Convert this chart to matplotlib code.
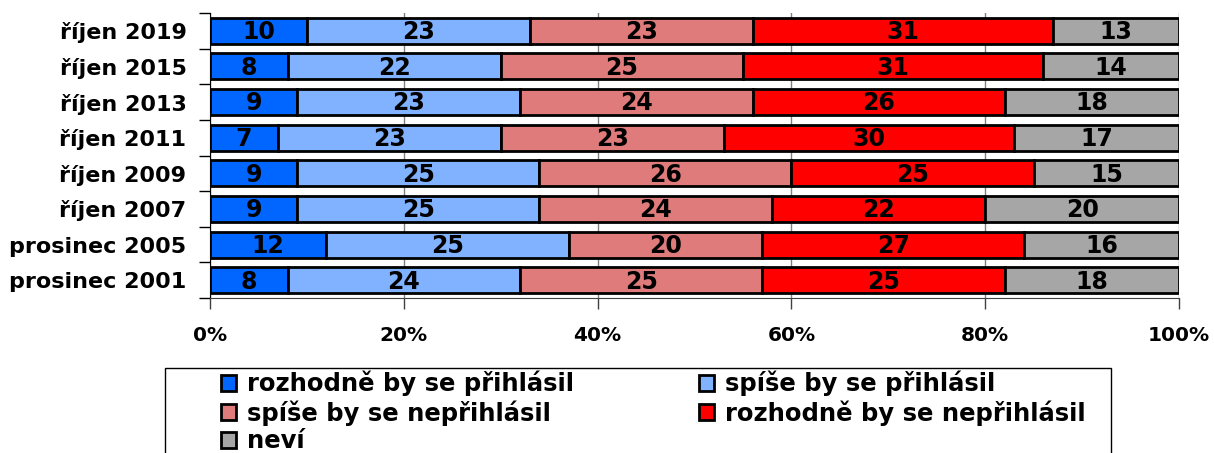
import numpy as np
import matplotlib.pyplot as plt
import matplotlib.patches as patches

plt.rcParams['font.family'] = 'DejaVu Sans'
plt.rcParams['font.weight'] = 'bold'

years = ['říjen 2019', 'říjen 2015', 'říjen 2013', 'říjen 2011',
         'říjen 2009', 'říjen 2007', 'prosinec 2005', 'prosinec 2001']
labels = ['rozhodně by se přihlásil', 'spíše by se přihlásil',
          'spíše by se nepřihlásil', 'rozhodně by se nepřihlásil', 'neví']

rozhodne_ano = [10, 8, 9, 7, 9, 9, 12, 8]
spise_ano = [23, 22, 23, 23, 25, 25, 25, 24]
spise_ne = [23, 25, 24, 23, 26, 24, 20, 25]
rozhodne_ne = [31, 31, 26, 30, 25, 22, 27, 25]
nevi = [13, 14, 18, 17, 15, 20, 16, 18]

colors = ['#0066FF', '#80B2FF', '#E07B7B', '#FF0000', '#A6A6A6']
series = [rozhodne_ano, spise_ano, spise_ne, rozhodne_ne, nevi]

W, H = 1214, 453
fig = plt.figure(figsize=(W / 100, H / 100), dpi=100)
ax = fig.add_axes([210 / W, 1 - 298 / H, (1179 - 210) / W, (298 - 13) / H])

y = np.arange(len(years))
left = np.zeros(len(years))
bars = []
for vals, c, lab in zip(series, colors, labels):
    vals = np.array(vals)
    b = ax.barh(y, vals, left=left, height=0.73, color=c, edgecolor='black',
                linewidth=2, label=lab, zorder=3)
    bars.append(b)
    for yi, v, l in zip(y, vals, left):
        ax.text(l + v / 2, yi + 0.04, str(v), ha='center', va='center',
                fontsize=17, fontweight='bold', zorder=4)
    left = left + vals

ax.set_xlim(0, 100)
ax.set_ylim(len(years) - 0.5, -0.5)
ax.set_xticks(np.arange(0, 101, 20))
ax.set_xticklabels([str(v) + '%' for v in range(0, 101, 20)], fontsize=14.5,
                   fontweight='bold')
ax.tick_params(axis='x', length=8, width=1, color='#404040', pad=12)
ax.set_yticks(y)
ax.set_yticklabels(years, fontsize=16, fontweight='bold')
ax.tick_params(axis='y', length=0, pad=17)
ax.set_yticks(np.arange(-0.5, len(years), 1), minor=True)
ax.tick_params(axis='y', which='minor', length=8, width=1, color='black')
ax.grid(axis='x', color='#808080', linewidth=1, zorder=0)
ax.spines['top'].set_visible(False)
ax.spines['right'].set_visible(False)
ax.spines['left'].set_color('black')
ax.spines['bottom'].set_color('#404040')

# legend box drawn by hand, legend itself without frame
fig.patches.append(patches.Rectangle((165 / W, -0.1), (1111 - 165) / W,
                                     1 - 368 / H + 0.1, transform=fig.transFigure,
                                     fill=False, edgecolor='black', linewidth=1))
order = [0, 2, 4, 1, 3]
leg = fig.legend([bars[i] for i in order], [labels[i] for i in order],
                 loc='upper left', bbox_to_anchor=(221 / W, 1 - 371 / H),
                 ncol=2, frameon=False, fontsize=17.5, borderpad=0,
                 handlelength=0.62, handleheight=0.62, handletextpad=0.45,
                 labelspacing=0.15, columnspacing=5.15, borderaxespad=0)
for h in leg.legend_handles:
    h.set_linewidth(2)

fig.savefig('out.png', dpi=100)
